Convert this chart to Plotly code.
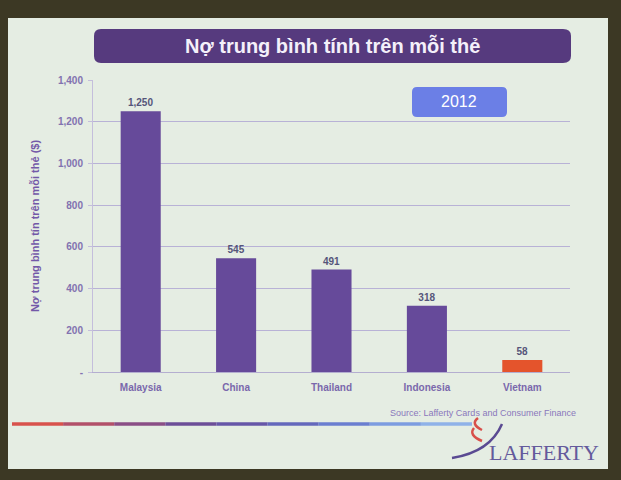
import plotly.graph_objects as go

# ---- data ----
countries = ["Malaysia", "China", "Thailand", "Indonesia", "Vietnam"]
debt = [1250, 545, 491, 318, 58]
bar_colors = ["#664a9a", "#664a9a", "#664a9a", "#664a9a", "#e4542c"]
tick_vals = [0, 200, 400, 600, 800, 1000, 1200, 1400]
tick_text = ["-", "200", "400", "600", "800", "1,000", "1,200", "1,400"]

title_text = "Nợ trung bình tính trên mỗi thẻ"
y_title = "Nợ trung bình tín trên mỗi thẻ ($)"
year_text = "2012"
source_text = "Source: Lafferty Cards and Consumer Finance"

W, H = 621, 480
L, R, T, B = 93, 570, 80, 372  # plot area in pixels


def px(x):
    return (x - L) / (R - L)


def py(y):
    return (B - y) / (B - T)


fig = go.Figure()
fig.add_trace(go.Bar(
    x=countries, y=debt,
    marker=dict(color=bar_colors, line=dict(width=0)),
    width=0.42,
    text=[f"{v:,}" for v in debt],
    texttemplate="<b>%{text}</b>",
    textposition="outside",
    textfont=dict(family="Liberation Sans, Arial", size=10, color="#55557a"),
    cliponaxis=False,
))

shapes = []
# slide background
shapes.append(dict(type="rect", xref="paper", yref="paper", layer="below",
                   x0=px(8), x1=px(608), y0=py(469), y1=py(18),
                   fillcolor="#e5ede3", line=dict(width=0)))
# title bar
shapes.append(dict(type="path", xref="paper", yref="paper", layer="above",
                   path=(f"M {px(101)} {py(29)} L {px(563)} {py(29)} "
                         f"Q {px(571)} {py(29)} {px(571)} {py(36)} L {px(571)} {py(56)} "
                         f"Q {px(571)} {py(63)} {px(563)} {py(63)} L {px(101)} {py(63)} "
                         f"Q {px(94)} {py(63)} {px(94)} {py(56)} L {px(94)} {py(36)} "
                         f"Q {px(94)} {py(29)} {px(101)} {py(29)} Z"),
                   fillcolor="#563a7e", line=dict(width=0)))
# year box
shapes.append(dict(type="path", xref="paper", yref="paper", layer="above",
                   path=(f"M {px(417)} {py(87)} L {px(502)} {py(87)} "
                         f"Q {px(507)} {py(87)} {px(507)} {py(92)} L {px(507)} {py(112)} "
                         f"Q {px(507)} {py(117)} {px(502)} {py(117)} L {px(417)} {py(117)} "
                         f"Q {px(412)} {py(117)} {px(412)} {py(112)} L {px(412)} {py(92)} "
                         f"Q {px(412)} {py(87)} {px(417)} {py(87)} Z"),
                   fillcolor="#6b7fe6", line=dict(width=0)))
# gradient line (segments)
grad = ["#d8524c", "#b2506a", "#8a4e86", "#6c4e98", "#6656a8", "#6468bc",
        "#6a7ed0", "#7c9ce0", "#8fb2e8"]
x0, x1 = 12, 472
n = len(grad)
for i, c in enumerate(grad):
    a = x0 + (x1 - x0) * i / n
    b = x0 + (x1 - x0) * (i + 1) / n
    shapes.append(dict(type="line", xref="paper", yref="paper",
                       x0=px(a), x1=px(b), y0=py(424), y1=py(424),
                       line=dict(color=c, width=3.5)))
# logo swooshes
shapes.append(dict(type="path", xref="paper", yref="paper",
                   path=(f"M {px(452)} {py(458)} Q {px(490)} {py(452)} {px(502)} {py(424)}"),
                   line=dict(color="#5a4a92", width=2.5)))
shapes.append(dict(type="path", xref="paper", yref="paper",
                   path=(f"M {px(478)} {py(418)} Q {px(470)} {py(424)} {px(482)} {py(430)}"),
                   line=dict(color="#d8504a", width=2.5)))
shapes.append(dict(type="path", xref="paper", yref="paper",
                   path=(f"M {px(474)} {py(428)} Q {px(468)} {py(435)} {px(482)} {py(441)}"),
                   line=dict(color="#d8504a", width=2.5)))

annotations = [
    dict(text=f"<b>{title_text}</b>", xref="paper", yref="paper",
         x=px(332), y=py(46), showarrow=False, xanchor="center", yanchor="middle",
         font=dict(family="Liberation Sans, Arial", size=20, color="#f4f0fa")),
    dict(text=year_text, xref="paper", yref="paper",
         x=px(459), y=py(102), showarrow=False, xanchor="center", yanchor="middle",
         font=dict(family="Liberation Sans, Arial", size=16, color="#ffffff")),
    dict(text=source_text, xref="paper", yref="paper",
         x=px(578), y=py(413), showarrow=False, xanchor="right", yanchor="middle",
         font=dict(family="Liberation Sans, Arial", size=9, color="#8a78bc")),
    dict(text="LAFFERTY", xref="paper", yref="paper",
         x=px(601), y=py(452), showarrow=False, xanchor="right", yanchor="middle",
         font=dict(family="Liberation Serif, Times New Roman", size=22, color="#645a9c")),
]

fig.update_layout(
    width=W, height=H, autosize=False,
    margin=dict(l=L, r=W - R, t=T, b=H - B, pad=0),
    paper_bgcolor="#3c3824",
    plot_bgcolor="rgba(0,0,0,0)",
    showlegend=False,
    shapes=shapes,
    annotations=annotations,
    xaxis=dict(
        tickvals=countries, ticktext=[f"<b>{c}</b>" for c in countries],
        showgrid=False, zeroline=False, showline=True, linecolor="#b4aed0", linewidth=1,
        ticks="", tickfont=dict(family="Liberation Sans, Arial", size=10, color="#7a68ac"),
        ticklabelstandoff=6,
    ),
    yaxis=dict(
        range=[0, 1400], tickvals=tick_vals, ticktext=[f"<b>{t}</b>" for t in tick_text],
        showgrid=True, gridcolor="#b8b2d6", gridwidth=1,
        zeroline=False, showline=True, linecolor="#c4bedc", linewidth=1,
        ticks="outside", ticklen=4, tickcolor="#c4bedc",
        ticklabelstandoff=3,
        tickfont=dict(family="Liberation Sans, Arial", size=10, color="#8272b0"),
        title=dict(text=f"<b>{y_title}</b>", standoff=16,
                   font=dict(family="Liberation Sans, Arial", size=11, color="#7358a8")),
    ),
    font=dict(family="Liberation Sans, Arial"),
)

fig.write_html("out.html", config={"displayModeBar": False},
               post_script="document.body.style.margin='0';document.body.style.overflow='hidden';")
